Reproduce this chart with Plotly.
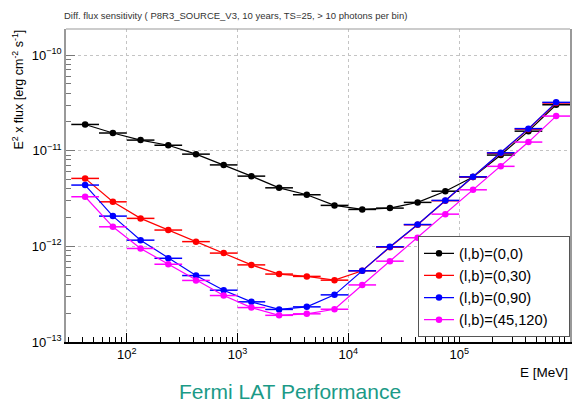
import numpy as np
import plotly.graph_objects as go

# Energy bin edges [MeV] (4 bins per decade, 31.6 MeV - 1 TeV)
bin_edges = [31.6, 56.2, 100, 177.8, 316.2, 562.3, 1000, 1778, 3162, 5623,
             10000, 17783, 31623, 56234, 100000, 177828, 316228, 562341, 1000000]

# Differential sensitivity E^2 x flux [erg cm^-2 s^-1]
sens_0_0 = [1.88e-11, 1.53e-11, 1.29e-11, 1.14e-11, 9.2e-12, 7.1e-12, 5.42e-12, 4.09e-12, 3.46e-12,
            2.68e-12, 2.43e-12, 2.51e-12, 2.88e-12, 3.77e-12, 5.3e-12, 9.0e-12, 1.60e-11, 3.02e-11]
sens_0_30 = [5.13e-12, 2.92e-12, 1.96e-12, 1.48e-12, 1.12e-12, 8.5e-13, 6.4e-13, 5.13e-13, 4.85e-13,
             4.43e-13, 5.55e-13, 9.8e-13, 1.68e-12, 3.0e-12, 5.3e-12, 9.4e-12, 1.68e-11, 3.15e-11]
sens_0_90 = [4.37e-12, 2.07e-12, 1.16e-12, 7.5e-13, 4.95e-13, 3.48e-13, 2.63e-13, 2.19e-13, 2.33e-13,
             3.11e-13, 5.55e-13, 9.9e-13, 1.69e-12, 3.02e-12, 5.33e-12, 9.5e-12, 1.70e-11, 3.2e-11]
sens_45_120 = [3.3e-12, 1.6e-12, 9.5e-13, 6.5e-13, 4.4e-13, 3.06e-13, 2.29e-13, 1.9e-13, 1.97e-13,
               2.2e-13, 3.95e-13, 7.0e-13, 1.23e-12, 2.17e-12, 3.9e-12, 6.86e-12, 1.23e-11, 2.3e-11]

series_names = ["(l,b)=(0,0)", "(l,b)=(0,30)", "(l,b)=(0,90)", "(l,b)=(45,120)"]
series_values = [sens_0_0, sens_0_30, sens_0_90, sens_45_120]
series_colors = ["#000000", "#ff0000", "#0000ff", "#ff00ff"]

x_tick_vals = [1e2, 1e3, 1e4, 1e5, 1e6]
x_tick_text = ["10<sup>2</sup>", "10<sup>3</sup>", "10<sup>4</sup>", "10<sup>5</sup>", "10<sup>6</sup>"]
y_tick_vals = [1e-13, 1e-12, 1e-11, 1e-10]
y_tick_text = ["10<sup>\u221213</sup>", "10<sup>\u221212</sup>", "10<sup>\u221211</sup>", "10<sup>\u221210</sup>"]

edges = np.array(bin_edges, dtype=float)
lo, hi = edges[:-1], edges[1:]
centres = np.sqrt(lo * hi)

# trailing non-breaking spaces give the legend box its right-hand padding
pad = "\u00a0" * 4

fig = go.Figure()
for name, vals, col in zip(series_names, series_values, series_colors):
    fig.add_trace(go.Scatter(
        x=centres, y=vals, name=name + pad, mode="lines+markers",
        line=dict(color=col, width=1.2),
        marker=dict(color=col, size=6.5, symbol="circle"),
        error_x=dict(type="data", symmetric=False, array=hi - centres,
                     arrayminus=centres - lo, color=col, thickness=1.5, width=0),
    ))

font = "Liberation Sans, Arial, Helvetica, sans-serif"
minor_x = [m * 10 ** d for d in range(1, 6) for m in range(2, 10)]
minor_y = [m * 10.0 ** d for d in range(-13, -9) for m in range(2, 10)]

grid = dict(showgrid=True, gridcolor="#c4c4c4", griddash="3px,3px", gridwidth=1)

fig.update_layout(
    width=579, height=402,
    margin=dict(l=66, r=7, t=29, b=60),
    paper_bgcolor="white", plot_bgcolor="white",
    font=dict(family=font, color="#111", size=12),
    showlegend=True,
    legend=dict(x=1, xanchor="right", y=0.015, yanchor="bottom",
                bgcolor="white", bordercolor="#555", borderwidth=1,
                font=dict(size=14.7, family=font, color="#000"),
                itemwidth=30, tracegroupgap=0),
    xaxis=dict(type="log", range=[1.452, 6.0],
               tickmode="array", tickvals=x_tick_vals, ticktext=x_tick_text,
               ticks="inside", ticklen=9, tickcolor="#000", tickwidth=1,
               minor=dict(tickmode="array", tickvals=minor_x, ticks="inside",
                          ticklen=5, tickcolor="#000", showgrid=False),
               showline=True, linecolor="#000", linewidth=1.5, mirror=False,
               tickfont=dict(size=13, family=font, color="#000"),
               zeroline=False, **grid),
    yaxis=dict(type="log", range=[-13, -9.728],
               tickmode="array", tickvals=y_tick_vals, ticktext=y_tick_text,
               ticks="inside", ticklen=9, tickcolor="#777", tickwidth=1,
               minor=dict(tickmode="array", tickvals=minor_y, ticks="inside",
                          ticklen=5, tickcolor="#777", showgrid=False),
               showline=True, linecolor="#999", linewidth=1.5, mirror=True,
               tickfont=dict(size=13, family=font, color="#000"),
               zeroline=False, **grid),
    shapes=[dict(type="line", xref="paper", yref="paper", x0=0, x1=1, y0=1, y1=1,
                 line=dict(color="#999", width=1))],
    annotations=[
        dict(text="Diff. flux sensitivity ( P8R3_SOURCE_V3, 10 years, TS=25, > 10 photons per bin)",
             xref="paper", yref="paper", x=-0.008, xanchor="left", y=1.0, yanchor="bottom",
             yshift=6, showarrow=False, font=dict(size=9.5, family=font, color="#333")),
        dict(text="E<sup>2</sup> x flux [erg cm<sup>-2</sup> s<sup>-1</sup>]",
             xref="paper", yref="paper", x=-0.095, xanchor="center", y=1.005, yanchor="top",
             textangle=-90, showarrow=False, font=dict(size=12.5, family=font, color="#000")),
        dict(text="E [MeV]", xref="paper", yref="paper", x=1.0, xanchor="right",
             y=-0.098, yanchor="middle", showarrow=False,
             font=dict(size=13.5, family=font, color="#000")),
        dict(text="Fermi LAT Performance", xref="paper", yref="paper", x=0.444, xanchor="center",
             y=-0.158, yanchor="middle", showarrow=False,
             font=dict(size=21, family=font, color="#1b9a87")),
    ],
)

fig.write_html("out.html")
